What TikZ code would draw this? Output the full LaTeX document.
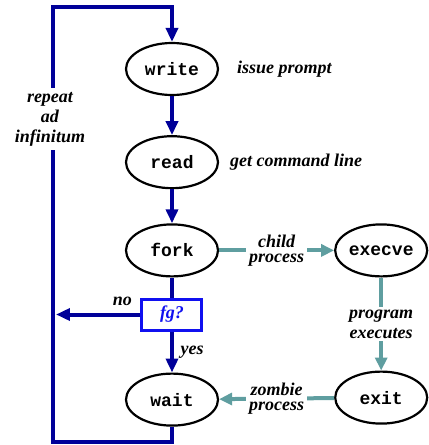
\documentclass[tikz,border=0pt]{standalone}
\usepackage{fontspec}
\setmainfont{Liberation Serif}
\setmonofont{Liberation Mono}
\usepackage{tikz}
\usetikzlibrary{positioning,arrows.meta,shapes,calc}
\definecolor{loopNavy}{HTML}{000099}
\definecolor{testBlue}{HTML}{1010F0}
\definecolor{childTeal}{HTML}{5F9EA0}

\begin{document}
\begin{tikzpicture}[font=\fontsize{9pt}{10pt}\selectfont\bfseries\itshape,
      proc/.style={draw,ellipse,line width=1.1pt,minimum width=46pt,minimum height=26pt,inner sep=0pt,font=\fontsize{9pt}{10pt}\selectfont\ttfamily\bfseries\upshape},
      test/.style={draw=testBlue,line width=1.5pt,minimum width=30pt,minimum height=15.5pt,inner sep=0pt,text=testBlue},
      flow/.style={loopNavy,line width=2pt},
      gflow/.style={childTeal,line width=2pt,-{Triangle[length=6.5pt,width=6pt]}},
      tip/.style={-{Triangle[length=7pt,width=6pt]}},
      lbl/.style={fill=white,text=black,inner sep=1.5pt,align=center,font=\fontsize{9pt}{7.5pt}\selectfont\bfseries\itshape}
    ]
    \node[proc] (write) {write};
    \node[proc,below=19.5pt of write] (read) {read};
    \node[proc,below=17pt of read] (fork) {fork};
    \node[proc,right=57.5pt of fork] (execve) {execve};
    \node[proc,below=46.5pt of execve] (exit) {exit};
    \node[proc,yshift=-1pt] (wait) at (fork |- exit) {wait};
    \node[test,below=10pt of fork] (fg) {fg?};

    \useasboundingbox ($(write.center)+(-86pt,34.5pt)$) rectangle ($(write.center)+(126.5pt,-188pt)$);

    \coordinate[above=17.5pt of write] (top);
    \coordinate[below=7.5pt of wait] (bot);
    \coordinate[left=59.5pt of write.center] (lft);

    \node[anchor=west,xshift=5.5pt] (prompt) at (write.east) {issue prompt};
    \node[anchor=west,xshift=2pt] (cmdline) at (read.east) {get command line};

    % main loop
    \draw[flow,tip] (write) -- (read);
    \draw[flow,tip] (read) -- (fork);
    \draw[flow] (fork) -- (fg);
    \draw[flow,tip] (fg) -- node[right,text=black]{yes} (wait);
    \draw[flow,tip,shorten >=1.5pt] (fg) -- (fg -| lft) node[pos=0,above left,text=black]{no};
    \draw[flow,tip] (wait) -- (bot) -- (bot -| lft) -- (top -| lft) -- (top) -- (write);
    \node[lbl,font=\fontsize{9pt}{10pt}\selectfont\bfseries\itshape,inner sep=2pt] (repeat) at ([yshift=-25pt,xshift=-1.5pt]lft) {repeat\\ad\\infinitum};

    % child side
    \draw[gflow] (fork) -- node[lbl]{child\\process} (execve);
    \draw[gflow] (execve) -- node[lbl,font=\fontsize{9pt}{10pt}\selectfont\bfseries\itshape]{program\\executes} (exit);
    \draw[gflow] (exit) -- node[lbl]{zombie\\process} (wait);
\end{tikzpicture}
\end{document}
